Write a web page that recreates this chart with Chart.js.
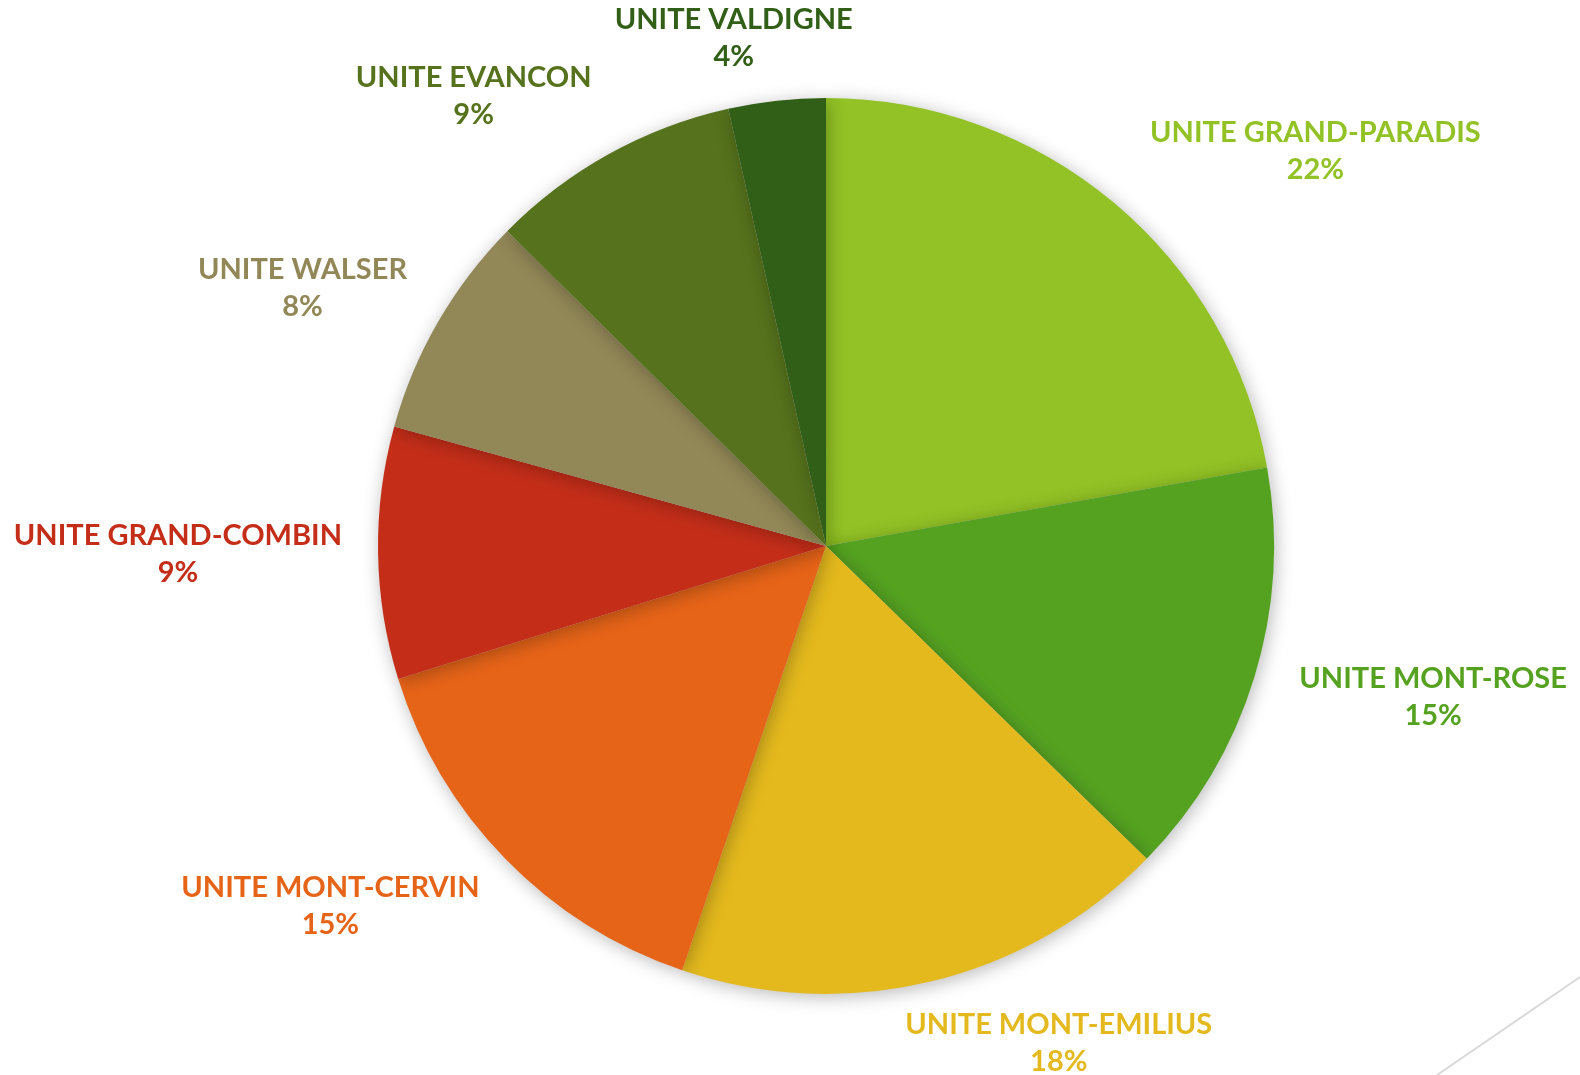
<!DOCTYPE html>
<html>
<head>
<meta charset="utf-8">
<script src="https://cdn.jsdelivr.net/npm/chart.js@4.4.1/dist/chart.umd.min.js"></script>
<style>
  html, body { margin: 0; padding: 0; background: #fff; overflow: hidden; }
  #wrap { width: 1580px; height: 1075px; position: relative; }
</style>
</head>
<body>
<div id="wrap"><canvas id="pie" width="1580" height="1075"></canvas></div>
<script>
// categories, clockwise from 12 o'clock
const labels = [
  "UNITE GRAND-PARADIS",
  "UNITE MONT-ROSE",
  "UNITE MONT-EMILIUS",
  "UNITE MONT-CERVIN",
  "UNITE GRAND-COMBIN",
  "UNITE WALSER",
  "UNITE EVANCON",
  "UNITE VALDIGNE"
];
// share of total
const values = [22.2, 15.1, 17.9, 15.0, 9.1, 8.1, 9.1, 3.5];
const colors = ["#92c225", "#55a221", "#e4b91e", "#e66418", "#c42e19", "#918757", "#56721c", "#325f17"];

const FONT = "bold 29px Lato, 'Open Sans', sans-serif";
const LINE_H = 37;

const clamp = (v, a, b) => Math.max(a, Math.min(b, v));

// soft shadow under the whole pie
const pieShadow = {
  id: "pieShadow",
  beforeDatasetsDraw(chart) {
    const ctx = chart.ctx;
    ctx.save();
    ctx.shadowColor = "rgba(0,0,0,0.28)";
    ctx.shadowBlur = 18;
    ctx.shadowOffsetX = 2;
    ctx.shadowOffsetY = 3;
  },
  afterDatasetsDraw(chart) {
    chart.ctx.restore();
  }
};

// outside-end labels: name + rounded percentage, coloured like the slice
const outLabels = {
  id: "outLabels",
  afterDatasetsDraw(chart) {
    const ctx = chart.ctx;
    const data = chart.data.datasets[0].data;
    const total = data.reduce((s, v) => s + v, 0);
    const meta = chart.getDatasetMeta(0);
    ctx.save();
    ctx.font = FONT;
    ctx.textAlign = "center";
    ctx.textBaseline = "middle";
    meta.data.forEach((arc, i) => {
      const p = arc.getProps(["x", "y", "startAngle", "endAngle", "outerRadius"], true);
      const mid = (p.startAngle + p.endAngle) / 2;
      const ux = Math.cos(mid), uy = Math.sin(mid);
      const pct = Math.round(data[i] / total * 100) + "%";
      const name = chart.data.labels[i];
      const w = Math.max(ctx.measureText(name).width, ctx.measureText(pct).width);
      const h = LINE_H * 2;
      const r = p.outerRadius + 36;
      // box pushed away from the anchor point, like office "outside end" labels
      const fx = clamp(ux * 3, -1, 1) + (ux > 0.2 ? 0.08 : 0);
      const fy = clamp(uy * 0.85, -0.72, 0.72);
      const cx = p.x + r * ux + fx * w / 2;
      const cy = p.y + r * uy + fy * h / 2;
      ctx.fillStyle = colors[i];
      ctx.fillText(name, cx, cy - LINE_H / 2);
      ctx.fillText(pct, cx, cy + LINE_H / 2);
    });
    ctx.restore();
  }
};

// thin grey slide decoration in the bottom-right corner
const cornerLine = {
  id: "cornerLine",
  afterDraw(chart) {
    const ctx = chart.ctx;
    ctx.save();
    ctx.strokeStyle = "#d9d9d9";
    ctx.lineWidth = 2;
    ctx.beginPath();
    ctx.moveTo(1437, 1075);
    ctx.lineTo(1580, 977);
    ctx.stroke();
    ctx.restore();
  }
};

new Chart(document.getElementById("pie"), {
  type: "pie",
  data: {
    labels,
    datasets: [{
      data: values,
      backgroundColor: colors,
      borderWidth: 0,
      hoverOffset: 0
    }]
  },
  options: {
    responsive: false,
    devicePixelRatio: 1,
    animation: false,
    layout: { padding: { left: 378, right: 306, top: 98, bottom: 81 } },
    plugins: {
      legend: { display: false },
      tooltip: { enabled: false }
    }
  },
  plugins: [pieShadow, outLabels, cornerLine]
});
</script>
</body>
</html>
